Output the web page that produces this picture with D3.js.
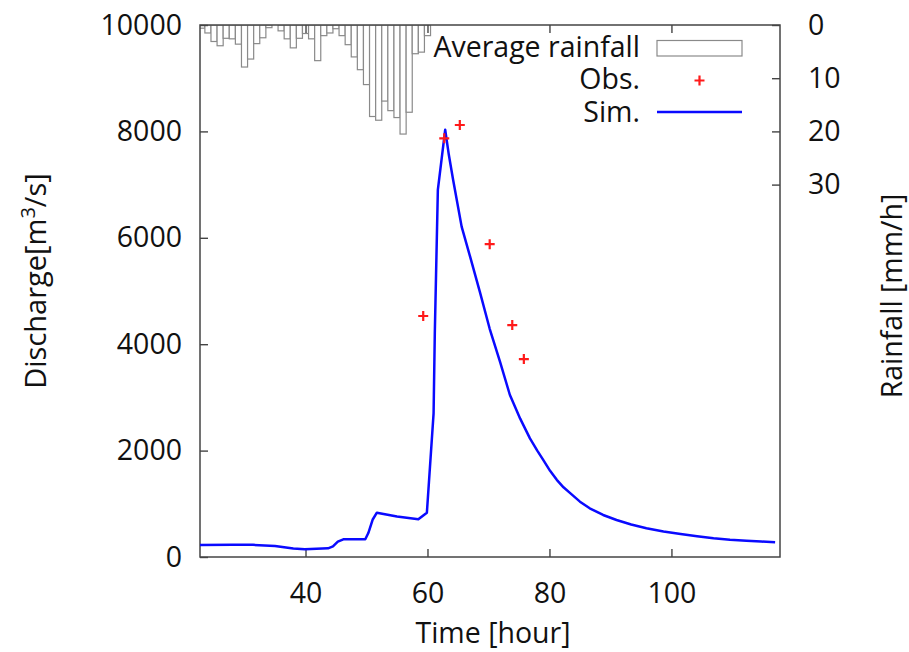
<!DOCTYPE html>
<html>
<head>
<meta charset="utf-8">
<script src="https://cdn.jsdelivr.net/npm/d3@7"></script>
<style>
  body { margin: 0; background: #fff; }
  text { font-family: "Open Sans", sans-serif; fill: #111; }
</style>
</head>
<body>
<svg id="chart" width="909" height="652"></svg>
<script>
// hourly average rainfall [mm/h], bar centred on the hour
var rainHours = [23, 24, 25, 26, 27, 28, 29, 30, 31, 32, 33, 34, 35, 36, 37, 38, 39, 40, 41,
                 42, 43, 44, 45, 46, 47, 48, 49, 50, 51, 52, 53, 54, 55, 56, 57, 58, 59, 60];
var rainValues = [0.6, 1.5, 3.1, 3.9, 2.5, 2.6, 3.6, 7.9, 6.4, 3.5, 2.4, 0.5, 0, 1.1, 2.6, 4.3, 2.5, 1.6, 2.6,
                  6.7, 2.0, 1.5, 0.7, 2.0, 3.7, 6.0, 8.4, 11.2, 17.2, 17.9, 14.3, 16.1, 17.4, 20.5, 16.4, 5.4, 5.1, 2.0];

// observed discharge [m3/s]
var obsTime = [59.3, 62.75, 65.3, 70.2, 73.9, 75.8];
var obsQ = [4530, 7870, 8120, 5880, 4360, 3720];

// simulated discharge [m3/s]
var simTime = [22.7, 28, 31.4, 35, 38, 39.9, 43.7, 44.5, 45.3, 46.2, 48, 49.8, 50.3, 51, 51.7, 55, 58.5, 59.9,
               61.0, 61.2, 61.7, 62.9, 63.5, 64.2, 65.6, 67.0, 68.6, 70.2, 71.9, 73.5, 75.2, 76.8,
               78.0, 79.0, 80.1, 81.2, 82.3, 83.4, 85.0, 86.6, 88.8, 91.0, 93.4, 95.9, 98.7,
               101.5, 104.2, 106.9, 109.6, 112.3, 114.7, 117.0];
var simQ = [225, 228, 228, 205, 160, 145, 163, 200, 290, 333, 335, 333, 450, 700, 833, 760, 708, 833,
            2700, 4210, 6900, 8030, 7560, 7090, 6210, 5640, 4980, 4290, 3670, 3050, 2600, 2230,
            2000, 1820, 1620, 1450, 1310, 1200, 1040, 915, 790, 695, 610, 540, 480,
            432, 390, 351, 325, 306, 290, 276];

var qTicks = [0, 2000, 4000, 6000, 8000, 10000];
var rainTicks = [0, 10, 20, 30];
var timeTicks = [40, 60, 80, 100];

var margin = {top: 25, right: 129, bottom: 95, left: 200};
var W = 909, H = 652;
var width = W - margin.left - margin.right,
    height = H - margin.top - margin.bottom;

var svg = d3.select("#chart");

var x = d3.scaleLinear().domain([22.7, 117.8]).range([0, width]);
var y = d3.scaleLinear().domain([0, 10000]).range([height, 0]);
var y2 = d3.scaleLinear().domain([0, 100]).range([0, height]);

var g = svg.append("g")
  .attr("transform", "translate(" + margin.left + "," + margin.top + ")");

g.append("clipPath").attr("id", "clip")
  .append("rect").attr("width", width).attr("height", height);

var rain = rainHours.map(function(h, i) { return {h: h, v: rainValues[i]}; });

g.append("g").attr("clip-path", "url(#clip)")
  .selectAll("rect").data(rain).enter().append("rect")
  .attr("x", function(d) { return x(d.h - 0.5); })
  .attr("width", function(d) { return x(d.h + 0.5) - x(d.h - 0.5); })
  .attr("y", 0)
  .attr("height", function(d) { return y2(d.v); })
  .attr("fill", "#fff")
  .attr("stroke", "#8a8a8a")
  .attr("stroke-width", 1.2);

// axes, gnuplot style ticks pointing inward
g.append("g").attr("class", "axis")
  .call(d3.axisLeft(y).tickValues(qTicks).tickFormat(d3.format("d")).tickSize(-8).tickPadding(18));
g.append("g").attr("class", "axis")
  .attr("transform", "translate(0," + height + ")")
  .call(d3.axisBottom(x).tickValues(timeTicks).tickFormat(d3.format("d")).tickSize(-8).tickPadding(26));
g.append("g").attr("class", "axis")
  .call(d3.axisTop(x).tickValues(timeTicks).tickSize(-8).tickFormat(""));
g.append("g").attr("class", "axis")
  .attr("transform", "translate(" + width + ",0)")
  .call(d3.axisRight(y2).tickValues(rainTicks).tickFormat(d3.format("d")).tickSize(-8).tickPadding(28));

g.selectAll(".axis .domain").remove();
g.selectAll(".axis line").attr("stroke", "#444").attr("stroke-width", 1.4);
g.selectAll(".axis text").attr("font-size", 28.5).attr("font-family", "Open Sans").attr("fill", "#111");

g.append("rect")
  .attr("width", width).attr("height", height)
  .attr("fill", "none").attr("stroke", "#444").attr("stroke-width", 1.5);

// simulated
var sim = simTime.map(function(t, i) { return [t, simQ[i]]; });
g.append("path")
  .datum(sim)
  .attr("fill", "none")
  .attr("stroke", "#0a0aff")
  .attr("stroke-width", 2.5)
  .attr("stroke-linejoin", "round")
  .attr("d", d3.line()
    .x(function(d) { return x(d[0]); }).y(function(d) { return y(d[1]); }));

// observed
var plus = "M-5,0H5M0,-5V5";
g.selectAll(".obs").data(obsTime).enter().append("path")
  .attr("class", "obs")
  .attr("transform", function(d, i) { return "translate(" + x(d) + "," + y(obsQ[i]) + ")"; })
  .attr("d", plus)
  .attr("stroke", "#ff1a1a")
  .attr("stroke-width", 2.2);

// legend
var leg = svg.append("g");
leg.append("text").attr("x", 640).attr("y", 57).attr("text-anchor", "end")
  .attr("font-size", 28.5).text("Average rainfall");
leg.append("rect").attr("x", 657).attr("y", 40.5).attr("width", 85).attr("height", 15.5)
  .attr("fill", "#fff").attr("stroke", "#8a8a8a").attr("stroke-width", 1.2);
leg.append("text").attr("x", 640).attr("y", 89).attr("text-anchor", "end")
  .attr("font-size", 28.5).text("Obs.");
leg.append("path").attr("transform", "translate(699.5,80.5)").attr("d", plus)
  .attr("stroke", "#ff1a1a").attr("stroke-width", 2.2);
leg.append("text").attr("x", 640).attr("y", 122).attr("text-anchor", "end")
  .attr("font-size", 28.5).text("Sim.");
leg.append("line").attr("x1", 657).attr("x2", 742).attr("y1", 112).attr("y2", 112)
  .attr("stroke", "#0a0aff").attr("stroke-width", 2.5);

// axis titles
var yl = svg.append("text")
  .attr("transform", "translate(46,281) rotate(-90)")
  .attr("text-anchor", "middle")
  .attr("font-size", 29);
yl.append("tspan").text("Discharge[m");
yl.append("tspan").attr("dy", -11).attr("font-size", 20).text("3");
yl.append("tspan").attr("dy", 11).text("/s]");

svg.append("text")
  .attr("transform", "translate(902,296) rotate(-90)")
  .attr("text-anchor", "middle")
  .attr("font-size", 28.5)
  .text("Rainfall [mm/h]");

svg.append("text")
  .attr("x", 493).attr("y", 643)
  .attr("text-anchor", "middle")
  .attr("font-size", 28.5)
  .text("Time [hour]");
</script>
</body>
</html>
